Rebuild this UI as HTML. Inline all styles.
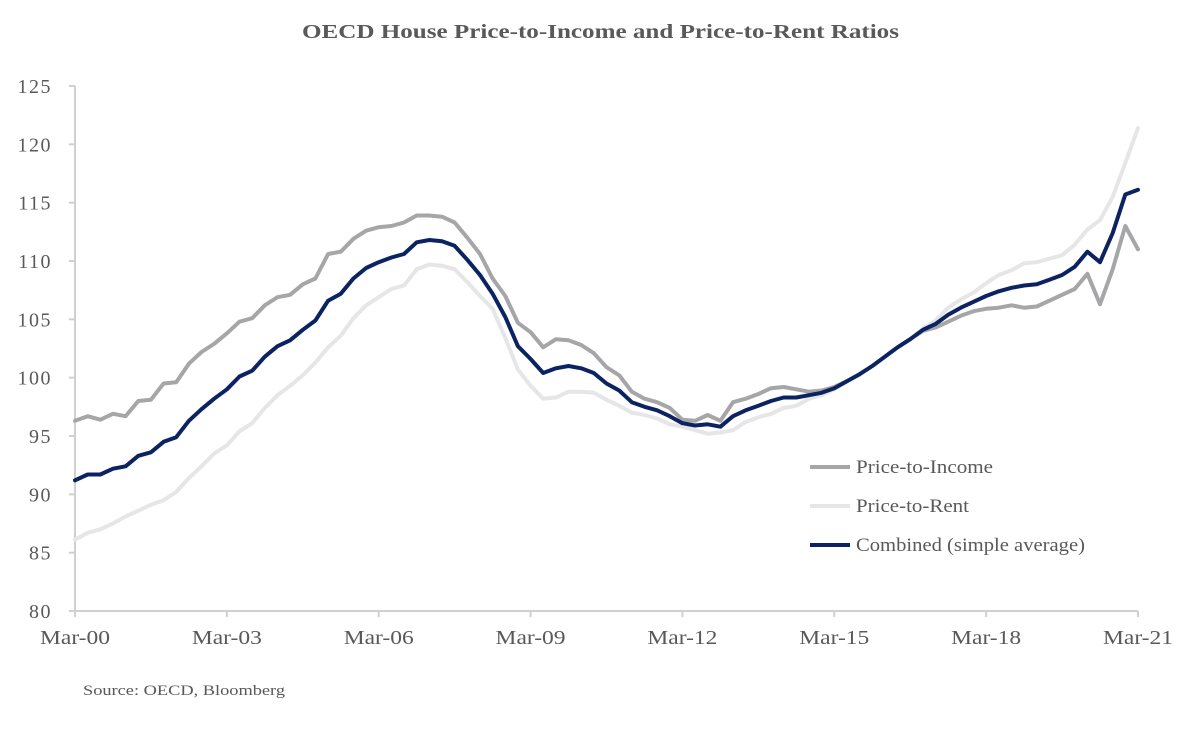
<!DOCTYPE html>
<html><head><meta charset="utf-8"><style>
body{margin:0;background:#fff;}
svg text{font-family:"Liberation Serif",serif;}
</style></head><body>
<svg id="chart" width="1201" height="724" xmlns="http://www.w3.org/2000/svg">
<text x="302" y="38" textLength="597" lengthAdjust="spacingAndGlyphs" font-size="20" font-weight="bold" fill="#595959">OECD House Price-to-Income and Price-to-Rent Ratios</text>
<g id="axes"></g>
<g id="series"></g>
<g id="legend"></g>
<text x="83" y="695" textLength="202" lengthAdjust="spacingAndGlyphs" font-size="15" fill="#595959">Source: OECD, Bloomberg</text>
</svg>
<script>
const xLabels=["Mar-00","Mar-03","Mar-06","Mar-09","Mar-12","Mar-15","Mar-18","Mar-21"];
const yTicks=[80,85,90,95,100,105,110,115,120,125];
const priceToIncome=[96.3,96.7,96.4,96.9,96.7,98.0,98.1,99.5,99.6,101.2,102.2,102.9,103.8,104.8,105.1,106.2,106.9,107.1,108.0,108.5,110.6,110.8,111.9,112.6,112.9,113.0,113.3,113.9,113.9,113.8,113.3,112.0,110.6,108.5,107.0,104.7,103.9,102.6,103.3,103.2,102.8,102.1,100.9,100.2,98.8,98.2,97.9,97.4,96.4,96.3,96.8,96.3,97.9,98.2,98.6,99.1,99.2,99.0,98.8,98.9,99.2,99.7,100.3,101.0,101.8,102.6,103.3,104.0,104.3,104.8,105.3,105.7,105.9,106.0,106.2,106.0,106.1,106.6,107.1,107.6,108.9,106.3,109.3,113.0,111.0];
const priceToRent=[86.1,86.7,87.0,87.5,88.1,88.6,89.1,89.5,90.2,91.4,92.4,93.5,94.2,95.4,96.1,97.4,98.5,99.3,100.2,101.3,102.6,103.6,105.1,106.2,106.9,107.6,107.9,109.3,109.7,109.6,109.3,108.2,107.0,105.9,103.4,100.7,99.3,98.2,98.3,98.8,98.8,98.7,98.1,97.6,97.0,96.8,96.5,96.0,95.8,95.5,95.2,95.3,95.5,96.2,96.6,96.9,97.4,97.6,98.2,98.5,99.0,99.7,100.3,101.0,101.8,102.6,103.3,104.2,104.9,106.0,106.7,107.3,108.1,108.8,109.2,109.8,109.9,110.2,110.5,111.4,112.7,113.5,115.5,118.4,121.4];
const combined=[91.2,91.7,91.7,92.2,92.4,93.3,93.6,94.5,94.9,96.3,97.3,98.2,99.0,100.1,100.6,101.8,102.7,103.2,104.1,104.9,106.6,107.2,108.5,109.4,109.9,110.3,110.6,111.6,111.8,111.7,111.3,110.1,108.8,107.2,105.2,102.7,101.6,100.4,100.8,101.0,100.8,100.4,99.5,98.9,97.9,97.5,97.2,96.7,96.1,95.9,96.0,95.8,96.7,97.2,97.6,98.0,98.3,98.3,98.5,98.7,99.1,99.7,100.3,101.0,101.8,102.6,103.3,104.1,104.6,105.4,106.0,106.5,107.0,107.4,107.7,107.9,108.0,108.4,108.8,109.5,110.8,109.9,112.4,115.7,116.1];
const seriesNames=["Price-to-Income","Price-to-Rent","Combined (simple average)"];

const NS="http://www.w3.org/2000/svg";
const x0=75,x1=1138,yTop=86,yBot=611;
const nPts=priceToIncome.length;
const xs=i=>x0+(x1-x0)*i/(nPts-1);
const ys=v=>yBot-(v-80)/(125-80)*(yBot-yTop);
function mk(tag,attrs,parent){const e=document.createElementNS(NS,tag);for(const k in attrs)e.setAttribute(k,attrs[k]);parent.appendChild(e);return e;}
const axes=document.getElementById('axes');
const yAxis=mk('line',{x1:x0,y1:yTop,x2:x0,y2:yBot,stroke:'#d0d0d0','stroke-width':2},axes);


const xAxis=mk('line',{x1:x0,y1:yBot,x2:x1,y2:yBot,stroke:'#d0d0d0','stroke-width':2},axes);


yTicks.forEach(v=>{
  const y=ys(v);
  mk('line',{x1:x0-6,y1:y,x2:x0,y2:y,stroke:'#d0d0d0','stroke-width':2},axes);
  const t=mk('text',{x:52,y:y+7,'text-anchor':'end','font-size':20,'letter-spacing':1.5,fill:'#595959'},axes);
  t.textContent=v;
  
  
});
xLabels.forEach((l,k)=>{
  const x=xs(k*12);
  mk('line',{x1:x,y1:yBot,x2:x,y2:yBot+6,stroke:'#d0d0d0','stroke-width':2},axes);
  const t=mk('text',{x:x-35,y:644,textLength:70,lengthAdjust:'spacingAndGlyphs','font-size':20,fill:'#595959'},axes);
  t.textContent=l;
  
  
});
const colors=['#a6a6a8','#e6e6e8','#0b2361'];
const data=[priceToIncome,priceToRent,combined];
const sg=document.getElementById('series');
[1,0,2].forEach(s=>{
  const d=data[s].map((v,i)=>(i?'L':'M')+xs(i).toFixed(1)+','+ys(v).toFixed(1)).join(' ');
  const p=mk('path',{d:d,fill:'none',stroke:colors[s],'stroke-width':4,'stroke-linejoin':'round','stroke-linecap':'round'},sg);
  
  
});
const legendLens=[137,113,229];
const lg=document.getElementById('legend');
[467,506,545].forEach((y,s)=>{
  const l=mk('line',{x1:810,y1:y,x2:850,y2:y,stroke:colors[s],'stroke-width':4},lg);
  
  
  const t=mk('text',{x:856,y:y+6,textLength:legendLens[s],lengthAdjust:'spacingAndGlyphs','font-size':19,fill:'#595959'},lg);
  t.textContent=seriesNames[s];
  
  
});
</script>
</body></html>
